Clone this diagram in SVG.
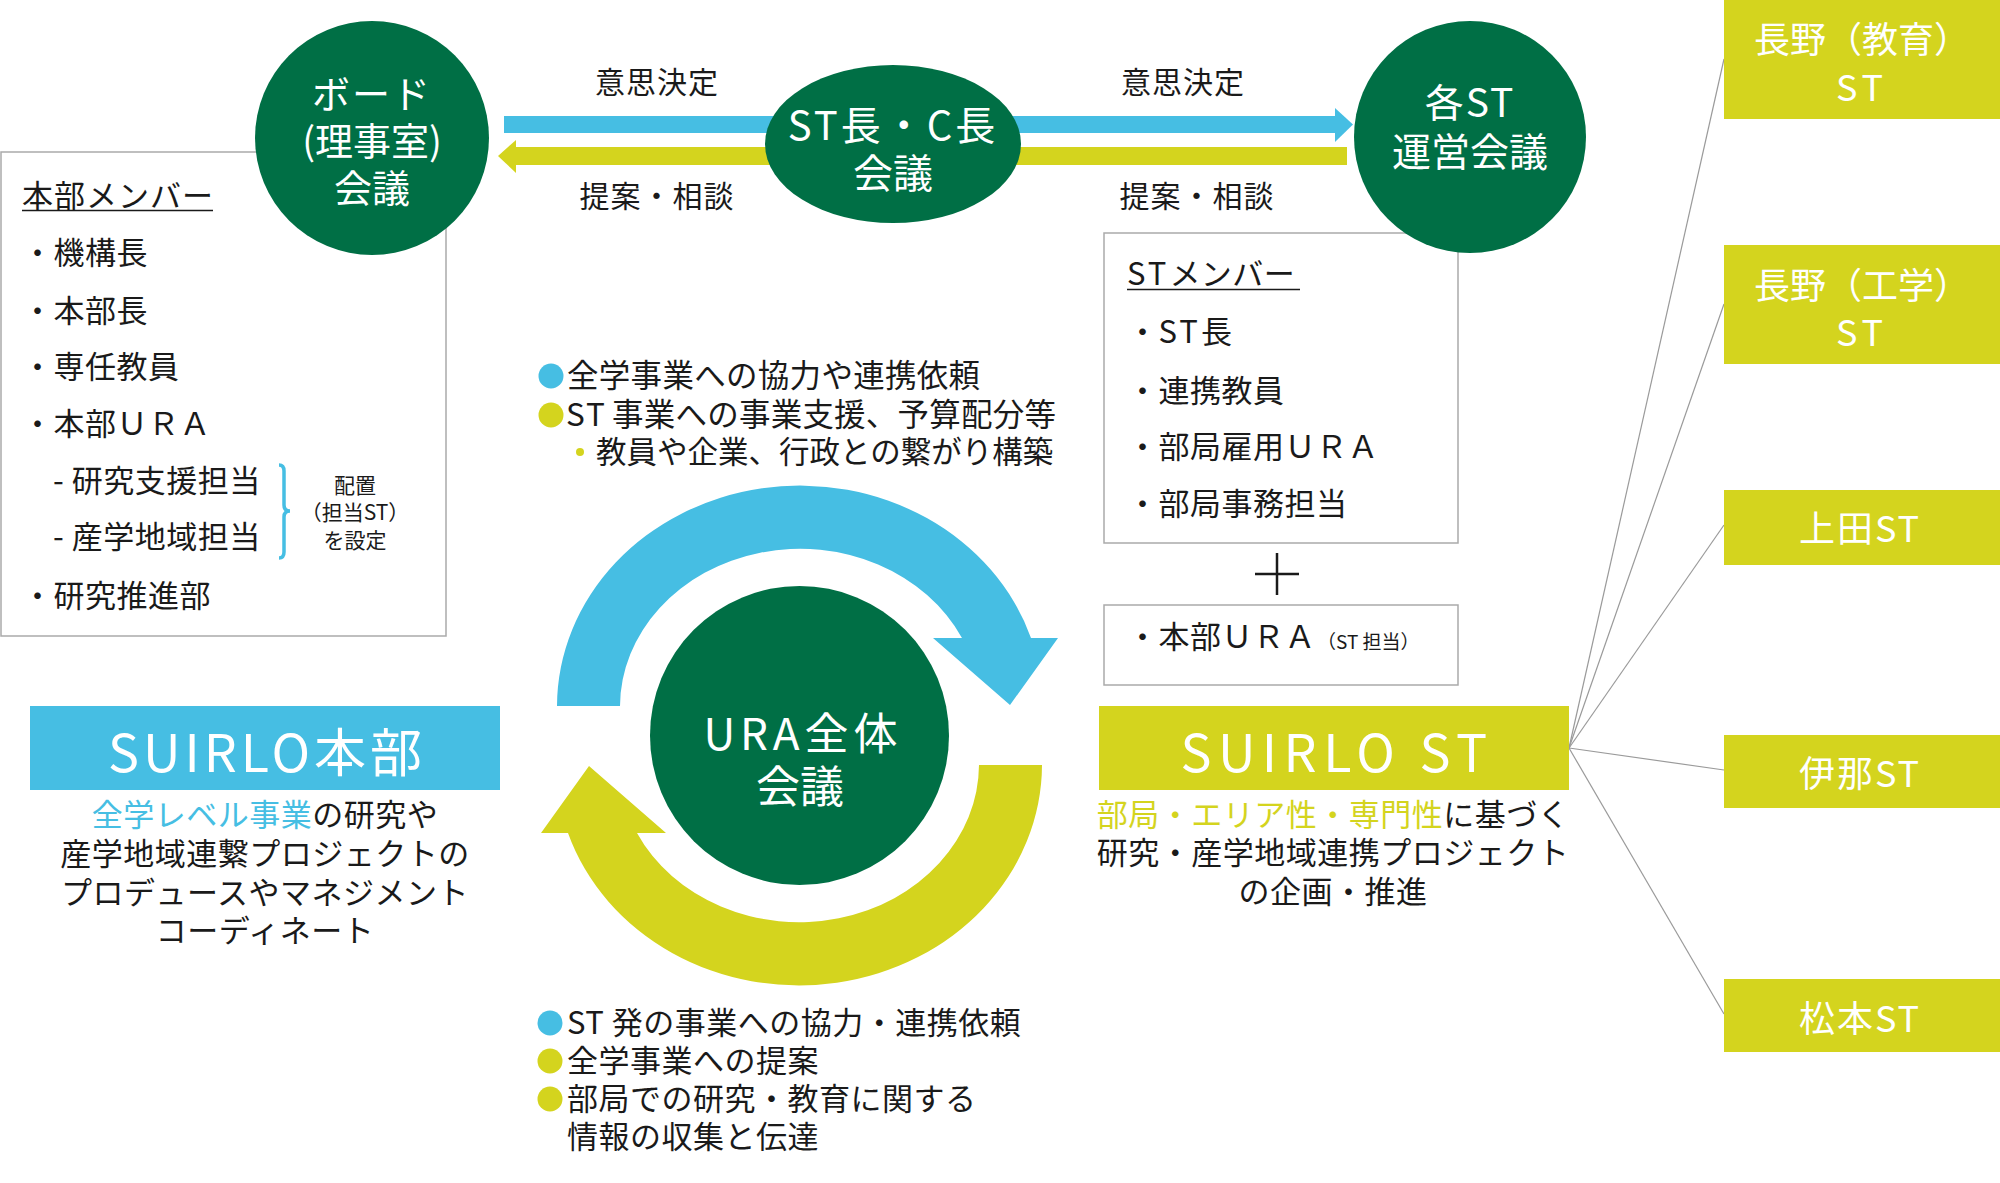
<svg xmlns="http://www.w3.org/2000/svg" width="2000" height="1183" viewBox="0 0 2000 1183">
<style>
text{font-family:"Noto Sans CJK JP","Noto Sans",sans-serif;}
.k{fill:#1a1a1a;font-size:31px;letter-spacing:0.5px}
.w{fill:#fff}
.c{text-anchor:middle}
.box{fill:#fff;stroke:#aaaaaa;stroke-width:1.5}
.green{fill:#006f45}
.blue{fill:#46bee3}
.yel{fill:#d4d41e}
.ul{stroke:#1a1a1a;stroke-width:1.5}
.gl{stroke:#9a9a9a;stroke-width:1.2;fill:none}
.st{font-size:36px;fill:#fff;text-anchor:middle}
</style>

<!-- connectors -->
<g id="connectors">
  <rect class="blue" x="504" y="116" width="831" height="17"/>
  <polygon class="blue" points="1335,108 1353,124.5 1335,142"/>
  <rect class="yel" x="516" y="147" width="831" height="18"/>
  <polygon class="yel" points="516,140 498,156 516,173"/>
  <path class="blue" d="M557,706 A243,221 0 0 1 1031,638 L1058,638 L1010,705 L933,638 L962,638 A180,158 0 0 0 620,706 Z"/>
  <path class="yel" transform="rotate(180 799.5 735.5)" d="M557,706 A243,221 0 0 1 1031,638 L1058,638 L1010,705 L933,638 L962,638 A180,158 0 0 0 620,706 Z"/>
  <line class="gl" x1="1569" y1="748" x2="1724" y2="59"/>
  <line class="gl" x1="1569" y1="748" x2="1724" y2="304"/>
  <line class="gl" x1="1569" y1="748" x2="1724" y2="525"/>
  <line class="gl" x1="1569" y1="748" x2="1724" y2="770"/>
  <line class="gl" x1="1569" y1="748" x2="1724" y2="1014"/>
</g>

<!-- arrow labels -->
<g id="arrow-labels">
  <text class="k c" x="657" y="93" style="font-size:30px;letter-spacing:1px">意思決定</text>
  <text class="k c" x="1183" y="93" style="font-size:30px;letter-spacing:1px">意思決定</text>
  <text class="k c" x="657" y="207" style="font-size:30px;letter-spacing:1px">提案・相談</text>
  <text class="k c" x="1197" y="207" style="font-size:30px;letter-spacing:1px">提案・相談</text>
</g>

<!-- HQ member box -->
<g id="hq-members">
  <rect class="box" x="1" y="152" width="445" height="484"/>
  <text class="k" x="22" y="207" style="letter-spacing:1px">本部メンバー</text>
  <line class="ul" x1="22" y1="210.5" x2="213" y2="210.5"/>
  <text class="k" x="22" y="264">・機構長</text>
  <text class="k" x="22" y="322">・本部長</text>
  <text class="k" x="22" y="378">・専任教員</text>
  <text class="k" x="22" y="435">・本部ＵＲＡ</text>
  <text class="k" x="53" y="492">- 研究支援担当</text>
  <text class="k" x="53" y="548">- 産学地域担当</text>
  <text class="k" x="22" y="607">・研究推進部</text>
  <path d="M279,465 Q284,465 284,471 L284,505 Q284,511 290,511 Q284,511 284,517 L284,552 Q284,558 279,558" fill="none" stroke="#46bee3" stroke-width="3.5"/>
  <text class="k c" x="355" y="493" style="font-size:21px;letter-spacing:0">配置</text>
  <text class="k c" x="355" y="520" style="font-size:21px;letter-spacing:0">（担当ST）</text>
  <text class="k c" x="355" y="548" style="font-size:21px;letter-spacing:0">を設定</text>
</g>

<!-- ST member box -->
<g id="st-members">
  <rect class="box" x="1104" y="233" width="354" height="310"/>
  <text class="k" x="1127" y="285"><tspan style="letter-spacing:3px">ST</tspan>メンバー</text>
  <line class="ul" x1="1127" y1="289.5" x2="1300" y2="289.5"/>
  <text class="k" x="1127" y="343">・<tspan style="letter-spacing:3px">ST</tspan>長</text>
  <text class="k" x="1127" y="402">・連携教員</text>
  <text class="k" x="1127" y="458">・部局雇用ＵＲＡ</text>
  <text class="k" x="1127" y="515">・部局事務担当</text>
</g>

<g id="plus">
  <line x1="1277" y1="553" x2="1277" y2="595" stroke="#1a1a1a" stroke-width="2.5"/>
  <line x1="1255" y1="574" x2="1299" y2="574" stroke="#1a1a1a" stroke-width="2.5"/>
</g>

<g id="hq-ura-box">
  <rect class="box" x="1104" y="605" width="354" height="80"/>
  <text class="k" x="1127" y="648">・本部ＵＲＡ<tspan x="1317" y="649" style="font-size:19px;letter-spacing:0">（ST 担当）</tspan></text>
</g>

<!-- board circle -->
<g id="board">
  <circle class="green" cx="372" cy="138" r="117"/>
  <text class="w c" x="372" y="108" style="font-size:38px;letter-spacing:2px">ボード</text>
  <text class="w c" x="372" y="155" style="font-size:38px">(理事室)</text>
  <text class="w c" x="372" y="202" style="font-size:38px">会議</text>
</g>

<!-- ST chief meeting -->
<g id="st-chief">
  <ellipse class="green" cx="893" cy="144" rx="128" ry="79"/>
  <text class="w c" x="893" y="140" style="font-size:40px;letter-spacing:3px">ST長・C長</text>
  <text class="w c" x="893" y="188" style="font-size:40px">会議</text>
</g>

<!-- each ST council -->
<g id="st-council">
  <circle class="green" cx="1470" cy="137" r="116"/>
  <text class="w c" x="1470" y="117" style="font-size:39px;letter-spacing:2px">各ST</text>
  <text class="w c" x="1470" y="166" style="font-size:39px">運営会議</text>
</g>

<!-- top list -->
<g id="list-top">
  <circle class="blue" cx="551" cy="376" r="12.5"/>
  <circle class="yel" cx="551" cy="415" r="12.5"/>
  <circle class="yel" cx="580" cy="452" r="4"/>
  <text class="k" x="567" y="387" style="font-size:31.5px;letter-spacing:0.3px">全学事業への協力や連携依頼</text>
  <text class="k" x="566" y="426" style="font-size:31.5px;letter-spacing:2px">ST</text>
  <text class="k" x="612" y="426" style="font-size:31.5px;letter-spacing:0" textLength="444" lengthAdjust="spacing">事業への事業支援、予算配分等</text>
  <text class="k" x="596" y="463" style="font-size:30.5px;letter-spacing:0">教員や企業、行政との繋がり構築</text>
</g>

<!-- URA council -->
<g id="ura-council">
  <circle class="green" cx="799.5" cy="735.5" r="149.5"/>
  <text class="w c" x="803" y="750" style="font-size:44px;letter-spacing:5px">URA全体</text>
  <text class="w c" x="800" y="803" style="font-size:44px">会議</text>
</g>

<!-- bottom list -->
<g id="list-bottom">
  <circle class="blue" cx="550" cy="1023" r="12.5"/>
  <circle class="yel" cx="550" cy="1061" r="12.5"/>
  <circle class="yel" cx="550" cy="1099" r="12.5"/>
  <text class="k" x="567" y="1034">ST 発の事業への協力・連携依頼</text>
  <text class="k" x="567" y="1072">全学事業への提案</text>
  <text class="k" x="567" y="1110">部局での研究・教育に関する</text>
  <text class="k" x="567" y="1148">情報の収集と伝達</text>
</g>

<!-- SUIRLO HQ -->
<g id="suirlo-hq">
  <rect class="blue" x="30" y="706" width="470" height="84"/>
  <text class="w c" x="267" y="772" style="font-size:52px;letter-spacing:4px">SUIRLO本部</text>
  <text class="k c" x="265" y="826"><tspan fill="#46bee3">全学レベル事業</tspan>の研究や</text>
  <text class="k c" x="265" y="865">産学地域連繋プロジェクトの</text>
  <text class="k c" x="265" y="904">プロデュースやマネジメント</text>
  <text class="k c" x="265" y="942">コーディネート</text>
</g>

<!-- SUIRLO ST -->
<g id="suirlo-st">
  <rect class="yel" x="1099" y="706" width="470" height="84"/>
  <text class="w c" x="1337" y="772" style="font-size:52px;letter-spacing:6.5px">SUIRLO ST</text>
  <text class="k c" x="1333" y="826"><tspan fill="#d4d41e">部局・エリア性・専門性</tspan>に基づく</text>
  <text class="k c" x="1333" y="864">研究・産学地域連携プロジェクト</text>
  <text class="k c" x="1333" y="903">の企画・推進</text>
</g>

<!-- ST nodes -->
<g id="st-nagano-edu">
  <rect class="yel" x="1724" y="0" width="276" height="119"/>
  <text class="st" x="1862" y="53">長野（教育）</text>
  <text class="st" x="1862" y="101" style="letter-spacing:5px">ST</text>
</g>
<g id="st-nagano-eng">
  <rect class="yel" x="1724" y="245" width="276" height="119"/>
  <text class="st" x="1862" y="299">長野（工学）</text>
  <text class="st" x="1862" y="346" style="letter-spacing:5px">ST</text>
</g>
<g id="st-ueda">
  <rect class="yel" x="1724" y="490" width="276" height="75"/>
  <text class="st" x="1860" y="542" style="letter-spacing:2px">上田ST</text>
</g>
<g id="st-ina">
  <rect class="yel" x="1724" y="735" width="276" height="73"/>
  <text class="st" x="1860" y="787" style="letter-spacing:2px">伊那ST</text>
</g>
<g id="st-matsumoto">
  <rect class="yel" x="1724" y="979" width="276" height="73"/>
  <text class="st" x="1860" y="1032" style="letter-spacing:2px">松本ST</text>
</g>
</svg>
